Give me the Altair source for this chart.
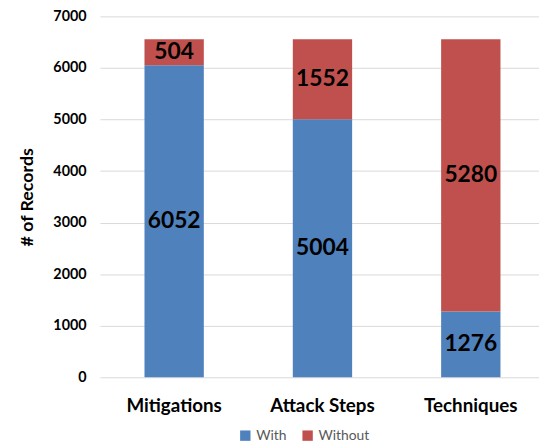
import altair as alt
import pandas as pd

categories = ["Mitigations", "Attack Steps", "Techniques"]
with_vals = [6052, 5004, 1276]
without_vals = [504, 1552, 5280]
series = ["With", "Without"]

rows = []
for c, w, wo in zip(categories, with_vals, without_vals):
    rows.append({"category": c, "series": "With", "value": w, "ord": 0})
    rows.append({"category": c, "series": "Without", "value": wo, "ord": 1})
df = pd.DataFrame(rows)

base = alt.Chart(df).transform_stack(
    stack="value", groupby=["category"], as_=["y0", "y1"],
    sort=[alt.SortField("ord", order="ascending")]
).transform_calculate(mid="(datum.y0 + datum.y1) / 2")

xenc = alt.X("category:N", sort=categories, title=None,
             scale=alt.Scale(paddingInner=0.6, paddingOuter=0.28, align=0.536),
             axis=alt.Axis(labelAngle=0, labelFont="Lato", labelFontWeight="bold",
                           labelFontSize=19, labelColor="#000000", labelPadding=20,
                           ticks=False, domain=False))

bars = base.mark_bar().encode(
    x=xenc,
    y=alt.Y("y0:Q", title="# of Records",
            scale=alt.Scale(domain=[0, 7000], nice=False),
            axis=alt.Axis(values=list(range(0, 7001, 1000)), format="d", labelFont="Lato",
                          labelFontWeight="bold", labelFontSize=14.5, labelColor="#000000",
                          labelPadding=14, ticks=False, domain=False,
                          gridColor="#d9d9d9", titleFont="Lato", titleFontSize=18,
                          titleFontWeight="bold", titleColor="#000000", titlePadding=17)),
    y2="y1:Q",
    color=alt.Color("series:N", sort=series,
                    scale=alt.Scale(domain=series, range=["#4f81bd", "#c0504d"]),
                    legend=alt.Legend(title=None, orient="none", legendX=140, legendY=417,
                                      direction="horizontal", symbolType="square",
                                      symbolSize=110, symbolStrokeWidth=0,
                                      labelFont="Lato", labelFontSize=14,
                                      labelColor="#595959", columnPadding=14)),
)

labels = base.mark_text(font="Lato", fontWeight="bold", fontSize=23, color="#000000",
                        baseline="middle").encode(
    x=alt.X("category:N", sort=categories),
    y=alt.Y("mid:Q"),
    text=alt.Text("value:Q", format="d"),
)

chart = (bars + labels).properties(
    width=444, height=365,
    autosize=alt.AutoSizeParams(type="none"),
    padding={"left": 93, "top": 6, "right": 0, "bottom": 66},
).configure_view(stroke=None)

chart.save("out.html", embed_options={"renderer": "svg", "actions": False})
